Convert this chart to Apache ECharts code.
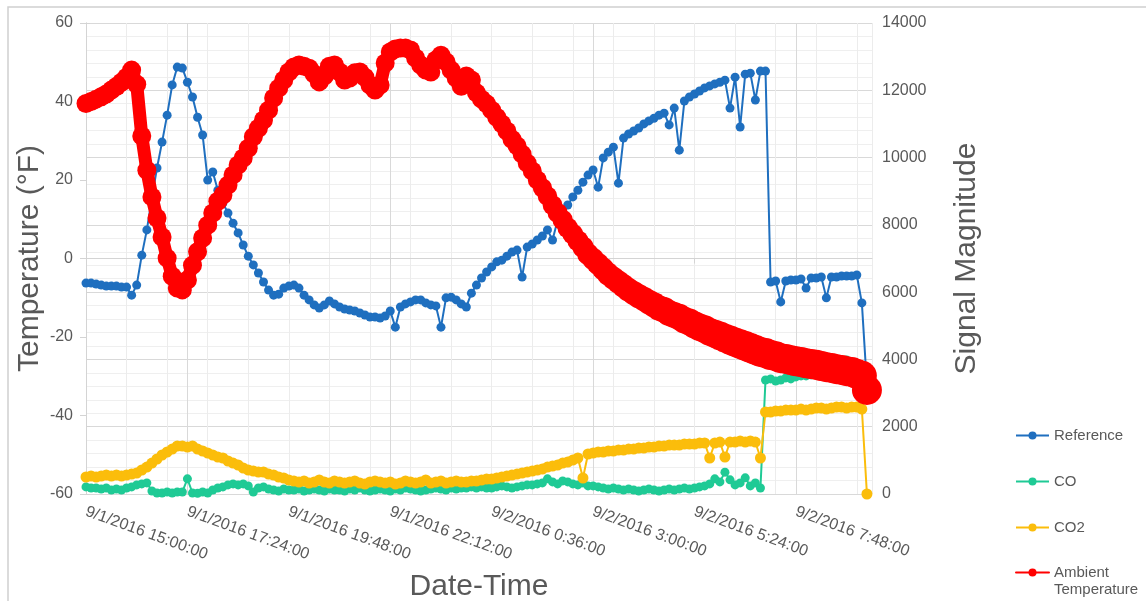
<!DOCTYPE html>
<html>
<head>
<meta charset="utf-8">
<title>Sensor signals and ambient temperature</title>
<script src="https://cdn.jsdelivr.net/npm/echarts@6/dist/echarts.min.js"></script>
<style>
  html, body { margin: 0; padding: 0; background: #ffffff; }
  #chart { width: 1146px; height: 601px; }
</style>
</head>
<body>
<div id="chart"></div>
<script>
// Samples start at 9/1/2016 15:00:00 and are spaced 7.2 minutes apart.
const sampleStepMinutes = 7.2;

// Date-time tick labels, one every 144 minutes (0.1 day).
const timeTickLabels = [
  '9/1/2016 15:00:00', '9/1/2016 17:24:00', '9/1/2016 19:48:00', '9/1/2016 22:12:00',
  '9/2/2016 0:36:00', '9/2/2016 3:00:00', '9/2/2016 5:24:00', '9/2/2016 7:48:00'
];

// Reference channel, signal magnitude
const reference = [
  6270, 6270, 6240, 6210, 6180, 6180, 6180, 6150, 6150, 5910,
  6210, 7100, 7850, 8800, 9690, 10460, 11260, 12160, 12690, 12660,
  12240, 11800, 11200, 10670, 9330, 9570, 9030, 8650, 8350, 8050,
  7760, 7400, 7070, 6810, 6570, 6300, 6060, 5910, 5940, 6120,
  6180, 6210, 6120, 5910, 5770, 5620, 5530, 5620, 5740, 5650,
  5560, 5500, 5470, 5440, 5380, 5320, 5260, 5260, 5230, 5290,
  5440, 4960, 5560, 5650, 5710, 5770, 5770, 5680, 5620, 5590,
  4960, 5830, 5850, 5770, 5650, 5560, 5970, 6210, 6420, 6600,
  6750, 6900, 6950, 7070, 7190, 7250, 6450, 7340, 7430, 7550,
  7670, 7850, 7550, 8140, 8350, 8590, 8830, 9030, 9270, 9480,
  9630, 9120, 9990, 10160, 10310, 9240, 10580, 10700, 10790, 10880,
  11000, 11090, 11170, 11260, 11320, 10970, 11470, 10220, 11680, 11800,
  11890, 11980, 12070, 12130, 12190, 12240, 12300, 11470, 12390, 10910,
  12480, 12510, 11710, 12570, 12570, 6300, 6330, 5710, 6330, 6360,
  6360, 6390, 6120, 6420, 6420, 6450, 5830, 6450, 6450, 6480,
  6480, 6480, 6510, 5680, 3240
];

// CO channel, signal magnitude
const co = [
  210, 180, 180, 150, 180, 120, 150, 120, 180, 210,
  270, 300, 330, 90, 30, 30, 60, 30, 60, 60,
  450, 30, 20, 60, 30, 120, 180, 210, 270, 300,
  270, 300, 240, 60, 180, 210, 150, 120, 90, 150,
  120, 120, 150, 90, 120, 150, 120, 90, 150, 120,
  120, 90, 150, 120, 180, 120, 90, 120, 150, 120,
  90, 150, 120, 180, 150, 120, 90, 120, 150, 180,
  150, 120, 180, 150, 180, 180, 210, 180, 210, 180,
  180, 210, 240, 210, 180, 210, 240, 270, 270, 300,
  330, 450, 360, 300, 390, 360, 300, 270, 330, 240,
  240, 210, 180, 150, 180, 150, 120, 150, 120, 90,
  120, 150, 120, 90, 120, 150, 120, 150, 180, 150,
  180, 210, 240, 300, 450, 360, 650, 420, 270, 330,
  480, 240, 330, 180, 3390, 3420, 3360, 3390, 3450, 3420,
  3480, 3510, 3510, 3540, 3570, 3600, 3630, 3660, 3690, 3830,
  3980, 3720, 3750, 3750, 3750
];

// CO2 channel, signal magnitude
const co2 = [
  505, 535, 505, 535, 565, 535, 565, 535, 565, 594,
  624, 713, 802, 921, 1040, 1159, 1248, 1337, 1427, 1427,
  1397, 1427, 1337, 1278, 1219, 1159, 1100, 1070, 981, 921,
  862, 773, 713, 684, 654, 654, 594, 565, 505, 476,
  416, 386, 357, 386, 327, 357, 416, 357, 327, 386,
  357, 327, 357, 386, 327, 297, 357, 386, 357, 327,
  357, 297, 327, 386, 357, 327, 357, 416, 327, 357,
  386, 327, 357, 386, 357, 357, 386, 386, 416, 446,
  446, 476, 505, 535, 565, 594, 624, 654, 684, 713,
  743, 802, 832, 862, 921, 951, 1010, 1070, 476, 1189,
  1219, 1248, 1248, 1278, 1278, 1308, 1308, 1337, 1337, 1367,
  1367, 1397, 1397, 1427, 1427, 1456, 1456, 1456, 1486, 1486,
  1486, 1516, 1516, 1070, 1516, 1545, 1100, 1545, 1545, 1575,
  1545, 1575, 1545, 1070, 2437, 2437, 2467, 2467, 2496, 2496,
  2496, 2526, 2496, 2526, 2556, 2556, 2526, 2556, 2586, 2586,
  2556, 2586, 2586, 2526, 0
];

// Ambient temperature, °F
const ambientTemperature = [
  39.5, 40.0, 40.6, 41.2, 41.9, 42.9, 43.8, 44.9, 46.2, 48.0,
  44.4, 31.2, 22.5, 15.7, 10.3, 5.5, 0.1, -4.5, -7.5, -8.0,
  -5.5, -1.7, 1.7, 5.2, 8.5, 11.6, 14.6, 16.2, 18.7, 21.3,
  23.8, 25.6, 28.1, 31.0, 33.2, 35.3, 37.8, 40.9, 43.4, 45.5,
  47.5, 48.8, 49.3, 49.0, 48.5, 47.0, 45.0, 46.5, 49.0, 49.3,
  47.5, 45.5, 46.0, 47.3, 47.5, 46.2, 44.2, 42.9, 44.2, 49.8,
  52.6, 53.4, 53.6, 53.6, 53.1, 51.1, 49.3, 48.0, 47.5, 50.6,
  51.8, 50.1, 48.0, 46.0, 43.9, 46.5, 45.5, 42.2, 40.6, 39.4,
  37.8, 36.0, 34.3, 32.5, 30.4, 28.7, 26.6, 24.3, 22.3, 20.0,
  18.0, 15.9, 13.6, 11.6, 9.8, 7.8, 6.2, 4.5, 2.9, 1.1,
  -0.1, -1.4, -2.7, -4.0, -5.0, -6.0, -7.0, -8.0, -8.8, -9.6,
  -10.3, -11.1, -11.8, -12.6, -13.1, -13.9, -14.4, -14.9, -15.7, -16.2,
  -16.9, -17.5, -18.0, -18.7, -19.2, -19.7, -20.3, -20.8, -21.3, -21.8,
  -22.3, -22.8, -23.3, -23.8, -24.1, -24.6, -24.9, -25.4, -25.6, -25.9,
  -26.2, -26.4, -26.7, -26.9, -27.1, -27.4, -27.7, -27.9, -28.2, -28.4,
  -28.7, -28.9, -29.4, -29.9, -33.5
];

// Pair each reading with its elapsed time (minutes since the first sample).
function withTime(values) {
  return values.map((v, i) => [i * sampleStepMinutes, v]);
}

const textColor = '#595959';
const fontFamily = 'Liberation Sans, Arial, sans-serif';
const axisMaxMinutes = 1116;   // 9/2/2016 9:36:00
const majorStepMinutes = 144;  // 0.1 day
const minorStepMinutes = 57.6; // 0.04 day

const legendCommon = {
  orient: 'vertical',
  left: 1010,
  itemWidth: 33,
  itemHeight: 10,
  itemGap: 29,
  textStyle: { fontSize: 15, color: textColor, lineHeight: 17, fontFamily: fontFamily },
  lineStyle: { width: 2 }
};

const chart = echarts.init(document.getElementById('chart'), null, { renderer: 'canvas' });

chart.setOption({
  animation: false,
  backgroundColor: '#ffffff',
  textStyle: { fontFamily: fontFamily },
  graphic: [{
    type: 'rect',
    shape: { x: 8, y: 7, width: 1160, height: 620 },
    style: { fill: 'none', stroke: '#d0d0d0', lineWidth: 1.5 },
    silent: true,
    z: -10
  }],
  grid: { left: 86, right: 274, top: 23, bottom: 107, outerBoundsMode: 'none', containLabel: false },
  legend: [
    Object.assign({}, legendCommon, {
      top: 422,
      data: ['Reference', 'CO', 'CO2']
    }),
    // two-line entry: a leading blank line keeps the icon level with "Ambient"
    Object.assign({}, legendCommon, {
      top: 542,
      formatter: () => '\nAmbient\nTemperature',
      data: ['Ambient Temperature']
    })
  ],
  xAxis: [{
    type: 'value',
    min: 0,
    max: axisMaxMinutes,
    interval: majorStepMinutes,
    name: 'Date-Time',
    nameLocation: 'middle',
    nameGap: 78,
    nameMoveOverlap: false,
    nameTextStyle: { fontSize: 30, color: textColor, fontFamily: fontFamily },
    axisLine: { show: true, lineStyle: { color: '#d4d4d4', width: 1 } },
    axisTick: { show: true, length: 5, lineStyle: { color: '#d4d4d4' } },
    axisLabel: {
      rotate: -20,
      margin: 17,
      fontSize: 16,
      color: textColor,
      showMaxLabel: false,
      hideOverlap: false,
      formatter: v => {
        const k = Math.round(v / majorStepMinutes);
        return Math.abs(k * majorStepMinutes - v) < 0.01 && timeTickLabels[k] ? timeTickLabels[k] : '';
      }
    },
    splitLine: { show: true, lineStyle: { color: '#d9d9d9', width: 1 } }
  }, {
    type: 'value',
    min: 0,
    max: axisMaxMinutes,
    interval: minorStepMinutes,
    position: 'bottom',
    axisLine: { show: false },
    axisTick: { show: false },
    axisLabel: { show: false },
    splitLine: { show: true, lineStyle: { color: '#ececec', width: 1 } }
  }],
  yAxis: [{
    type: 'value',
    position: 'left',
    min: -60,
    max: 60,
    interval: 20,
    name: 'Temperature (°F)',
    nameLocation: 'middle',
    nameRotate: 90,
    nameGap: 41,
    nameMoveOverlap: false,
    nameTextStyle: { fontSize: 30, color: textColor, fontFamily: fontFamily },
    axisLine: { show: true, lineStyle: { color: '#d4d4d4', width: 1 } },
    axisTick: { show: true, length: 6, lineStyle: { color: '#d4d4d4' } },
    axisLabel: { fontSize: 16, color: textColor, margin: 13 },
    splitLine: { show: false }
  }, {
    type: 'value',
    position: 'right',
    min: 0,
    max: 14000,
    interval: 2000,
    name: 'Signal Magnitude',
    nameLocation: 'middle',
    nameRotate: 90,
    nameGap: 80,
    nameMoveOverlap: false,
    nameTextStyle: { fontSize: 30, color: textColor, fontFamily: fontFamily },
    axisLine: { show: true, lineStyle: { color: '#d4d4d4', width: 1 } },
    axisTick: { show: true, length: 4, lineStyle: { color: '#d4d4d4' } },
    axisLabel: { fontSize: 16, color: textColor, margin: 10, formatter: v => String(v) },
    splitLine: { show: true, lineStyle: { color: '#d9d9d9', width: 1 } },
    minorTick: { show: false, splitNumber: 5 },
    minorSplitLine: { show: true, lineStyle: { color: '#efefef', width: 1 } }
  }],
  series: [{
    name: 'Reference',
    type: 'line',
    xAxisIndex: 0,
    yAxisIndex: 1,
    data: withTime(reference),
    symbol: 'circle',
    symbolSize: 9,
    showAllSymbol: true,
    color: '#1f6fbf',
    lineStyle: { width: 2, color: '#1f6fbf' },
    itemStyle: { color: '#1f6fbf' }
  }, {
    name: 'CO',
    type: 'line',
    xAxisIndex: 0,
    yAxisIndex: 1,
    data: withTime(co),
    symbol: 'circle',
    symbolSize: 9,
    showAllSymbol: true,
    color: '#1fca95',
    lineStyle: { width: 2, color: '#1fca95' },
    itemStyle: { color: '#1fca95' }
  }, {
    name: 'CO2',
    type: 'line',
    xAxisIndex: 0,
    yAxisIndex: 1,
    data: withTime(co2),
    symbol: 'circle',
    symbolSize: 11,
    showAllSymbol: true,
    color: '#fbbd0b',
    lineStyle: { width: 2, color: '#fbbd0b' },
    itemStyle: { color: '#fbbd0b' }
  }, {
    name: 'Ambient Temperature',
    type: 'line',
    xAxisIndex: 0,
    yAxisIndex: 0,
    data: withTime(ambientTemperature),
    symbol: 'circle',
    // the readings scatter more widely during the long cool-down, so the band widens there
    symbolSize: v => {
      const k = Math.min(1, Math.max(0, (v[0] - 640) / 300));
      return 19 + k * 11;
    },
    showAllSymbol: true,
    color: '#ff0000',
    lineStyle: { width: 13, color: '#ff0000', join: 'round', cap: 'round' },
    itemStyle: { color: '#ff0000' }
  }]
});
</script>
</body>
</html>
